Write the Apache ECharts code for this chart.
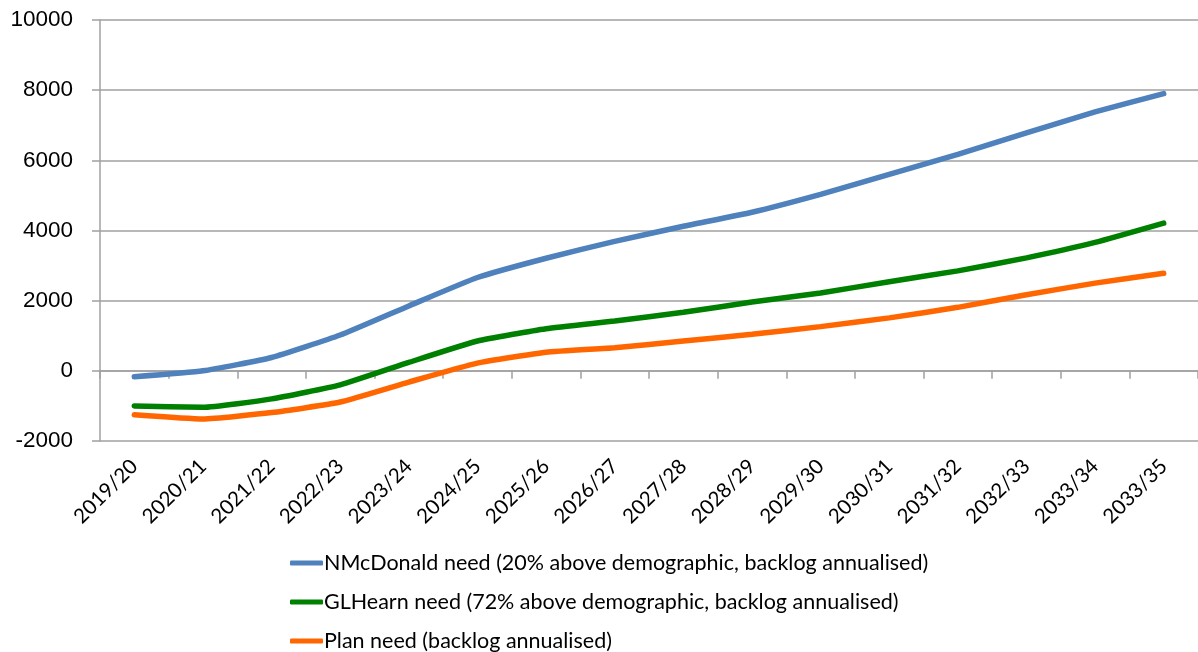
<!DOCTYPE html>
<html>
<head>
<meta charset="utf-8">
<script src="https://cdn.jsdelivr.net/npm/echarts@6/dist/echarts.min.js"></script>
<style>
  html, body { margin: 0; padding: 0; background: #fff; }
  #chart { width: 1198px; height: 652px; }
</style>
</head>
<body>
<div id="chart"></div>
<script>
var years = ['2019/20', '2020/21', '2021/22', '2022/23', '2023/24', '2024/25', '2025/26', '2026/27',
    '2027/28', '2028/29', '2029/30', '2030/31', '2031/32', '2032/33', '2033/34', '2033/35'];
var nmcdonald = [-170, 0, 380, 1020, 1850, 2660, 3210, 3690, 4120, 4520, 5030, 5600, 6170, 6780, 7380, 7900];
var glhearn = [-1000, -1040, -800, -400, 240, 850, 1200, 1420, 1670, 1960, 2220, 2540, 2850, 3220, 3660, 4210];
var plan = [-1250, -1370, -1190, -890, -320, 220, 530, 660, 850, 1040, 1260, 1510, 1810, 2170, 2500, 2780];

var names = [
    'NMcDonald need (20% above demographic, backlog annualised)',
    'GLHearn need (72% above demographic, backlog annualised)',
    'Plan need (backlog annualised)'
];

var chart = echarts.init(document.getElementById('chart'));

function lineSeries(name, data, color) {
    return {
        name: name,
        type: 'line',
        data: data,
        smooth: 0.15,
        symbol: 'none',
        showSymbol: false,
        xAxisIndex: 0,
        lineStyle: {width: 5.5, color: color, cap: 'round'},
        itemStyle: {color: color}
    };
}

var option = {
    animation: false,
    grid: {left: 100, top: 20, width: 1101, height: 421},
    legend: {
        orient: 'vertical',
        left: 290,
        top: 551,
        padding: 0,
        height: 110,
        itemWidth: 33,
        itemHeight: 5,
        itemGap: 15,
        icon: 'roundRect',
        data: names,
        textStyle: {fontFamily: 'Lato', fontSize: 21.5, color: '#000', lineHeight: 24, padding: [0, 0, 0, -4]}
    },
    xAxis: [
        {
            type: 'category',
            data: years,
            boundaryGap: true,
            axisLine: {onZero: true, lineStyle: {color: '#a0a0a0', width: 1.5}},
            axisTick: {show: true, length: 8, lineStyle: {color: '#a0a0a0', width: 1.5}},
            axisLabel: {show: false},
            splitLine: {show: false}
        },
        {
            type: 'category',
            data: years,
            position: 'bottom',
            boundaryGap: true,
            axisLine: {show: false},
            axisTick: {show: false},
            axisLabel: {rotate: 45, margin: 22, fontFamily: 'Lato', fontSize: 20.5, color: '#000', interval: 0},
            splitLine: {show: false}
        }
    ],
    yAxis: {
        type: 'value',
        min: -2000,
        max: 10000,
        interval: 2000,
        axisLine: {show: true, lineStyle: {color: '#a0a0a0', width: 1.5}},
        axisTick: {show: true, length: 8, lineStyle: {color: '#a0a0a0', width: 1.5}},
        axisLabel: {margin: 27, fontFamily: 'Liberation Sans', fontSize: 22.5, color: '#000',
            formatter: function (v) { return String(v); }},
        splitLine: {show: true, lineStyle: {color: '#a0a0a0', width: 1.5}}
    },
    series: [
        lineSeries(names[0], nmcdonald, '#4f81bd'),
        lineSeries(names[1], glhearn, '#008000'),
        lineSeries(names[2], plan, '#ff6600')
    ]
};

chart.setOption(option);
</script>
</body>
</html>
